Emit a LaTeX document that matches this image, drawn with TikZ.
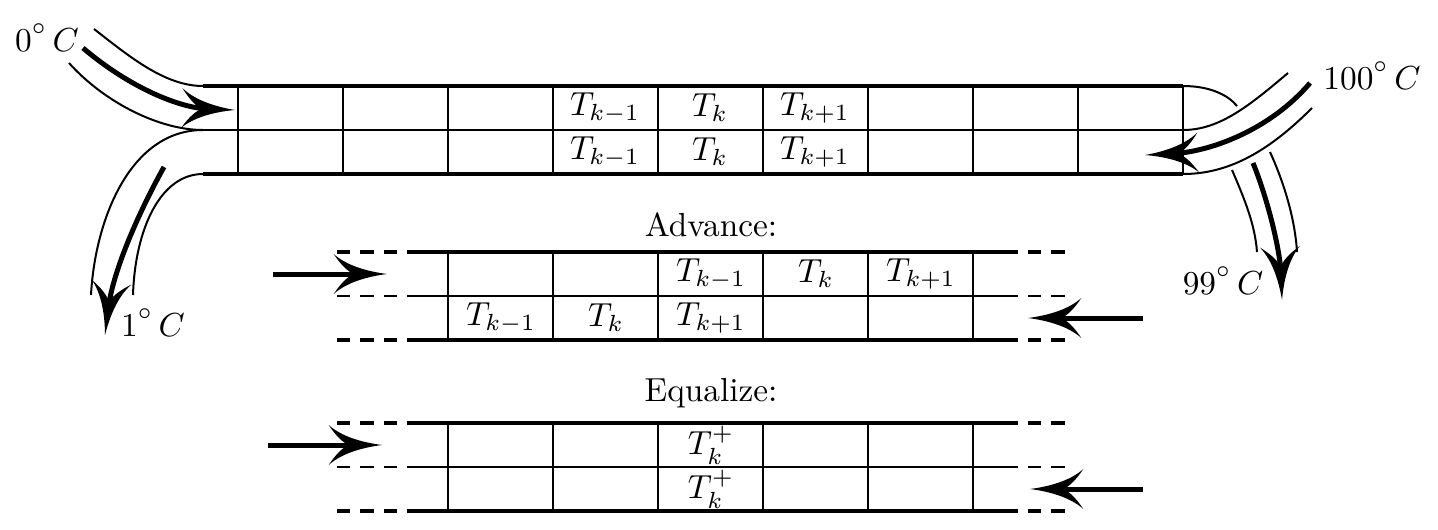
\documentclass[tikz,border=0pt]{standalone}
\usetikzlibrary{arrows.meta}
\pgfdeclarearrow{
  name = Fin,
  parameters = {\the\pgfarrowlength,\the\pgfarrowwidth},
  setup code = {
    \pgfarrowssettipend{0pt}
    \pgfarrowssetlineend{-0.5\pgfarrowlength}
    \pgfarrowssetbackend{-\pgfarrowlength}
    \pgfarrowssetvisualbackend{-0.6\pgfarrowlength}
    \pgfarrowsupperhullpoint{0pt}{0pt}
    \pgfarrowsupperhullpoint{-\pgfarrowlength}{.5\pgfarrowwidth}
    \pgfarrowssavethe\pgfarrowlength
    \pgfarrowssavethe\pgfarrowwidth
  },
  drawing code = {
    \pgfpathmoveto{\pgfqpoint{0pt}{0pt}}
    \pgfpathcurveto{\pgfpoint{-.35\pgfarrowlength}{.06\pgfarrowwidth}}{\pgfpoint{-.75\pgfarrowlength}{.2\pgfarrowwidth}}{\pgfpoint{-\pgfarrowlength}{.5\pgfarrowwidth}}
    \pgfpathcurveto{\pgfpoint{-.85\pgfarrowlength}{.2\pgfarrowwidth}}{\pgfpoint{-.72\pgfarrowlength}{.05\pgfarrowwidth}}{\pgfpoint{-.62\pgfarrowlength}{0pt}}
    \pgfpathcurveto{\pgfpoint{-.72\pgfarrowlength}{-.05\pgfarrowwidth}}{\pgfpoint{-.85\pgfarrowlength}{-.2\pgfarrowwidth}}{\pgfpoint{-\pgfarrowlength}{-.5\pgfarrowwidth}}
    \pgfpathcurveto{\pgfpoint{-.75\pgfarrowlength}{-.2\pgfarrowwidth}}{\pgfpoint{-.35\pgfarrowlength}{-.06\pgfarrowwidth}}{\pgfqpoint{0pt}{0pt}}
    \pgfpathclose
    \pgfusepathqfill
  },
  defaults = {length=16pt, width=12pt}
}
\newcommand{\degC}[1]{$#1^{\raisebox{1.5pt}{$\scriptstyle\circ$}}\,C$}
\tikzset{
  wall/.style={line width=1.2pt},
  grid/.style={line width=0.45pt},
  bank/.style={line width=0.6pt},
  flow/.style={line width=1.5pt,-{Fin[length=16pt,width=12pt]}},
  wallgap/.style={line width=1.2pt,dash pattern=on 4pt off 3pt},
  gridgap/.style={line width=0.45pt,dash pattern=on 4pt off 3pt},
  val/.style={inner sep=0pt},
}
\begin{document}
\begin{tikzpicture}[x=0.3pt,y=-0.3pt]
  \useasboundingbox (0,0) rectangle (1438,529);
  % counterflow pipe
  \draw[wall] (203,86) -- (1183,86);
  \draw[wall] (203,174) -- (1183,174);
  \draw[grid] (203,130) -- (1183,130);
  \foreach \x in {238,343,...,1183}
    \draw[grid] (\x,86) -- (\x,174);
  \foreach \y in {108,152} {
    \node[val] (km\y) at (605,\y) {$T_{k-1}$};
    \node[val] (k\y) at (710,\y) {$T_k$};
    \node[val] (kp\y) at (815,\y) {$T_{k+1}$};
  }
  % cold end
  \draw[bank] (94,29) .. controls (130,57) and (165,86) .. (203,86);
  \draw[bank] (69,63) .. controls (105,103) and (160,130) .. (203,130);
  \draw[flow] (83,48) .. controls (130,88) and (180,108) .. (235,110);
  \draw[bank] (203,130) .. controls (130,130) and (95,220) .. (91,295);
  \draw[bank] (203,174) .. controls (160,174) and (135,230) .. (133,295);
  \draw[flow] (164,167) .. controls (140,210) and (113,270) .. (105,335);
  \node (cin) at (47,38) {\degC{0}};
  \node (cout) at (153,323) {\degC{1}};
  % hot end
  \draw[bank] (1183,86) .. controls (1210,86) and (1228,95) .. (1237,106);
  \draw[bank] (1288,73) .. controls (1250,105) and (1220,130) .. (1183,130);
  \draw[bank] (1312,108) .. controls (1270,150) and (1230,174) .. (1183,174);
  \draw[flow] (1310,83) .. controls (1270,130) and (1210,152) .. (1145,155);
  \draw[bank] (1232,170) .. controls (1245,200) and (1255,225) .. (1257,252);
  \draw[bank] (1270,152) .. controls (1285,185) and (1295,220) .. (1297,252);
  \draw[flow] (1253,163) .. controls (1268,200) and (1280,250) .. (1282,300);
  \node (hin) at (1372,76) {\degC{100}};
  \node (hout) at (1223,281) {\degC{99}};
  % advance step
  \node (adv) at (711,225) {Advance:};
  \foreach \y in {252,340}
    \draw[wall] (407,\y) -- (1018,\y);
  \draw[grid] (407,296) -- (1018,296);
  \foreach \y in {252,340} {
    \draw[wallgap] (337,\y) -- (407,\y);
    \draw[wallgap,dash phase=4pt] (1018,\y) -- (1070,\y);
  }
  \draw[gridgap] (337,296) -- (407,296);
  \draw[gridgap,dash phase=4pt] (1018,296) -- (1070,296);
  \foreach \x in {448,553,...,973}
    \draw[grid] (\x,252) -- (\x,340);
  \node[val] (akm) at (711,274) {$T_{k-1}$};
  \node[val] (ak) at (816,274) {$T_k$};
  \node[val] (akp) at (921,274) {$T_{k+1}$};
  \node[val] (bkm) at (501,318) {$T_{k-1}$};
  \node[val] (bk) at (606,318) {$T_k$};
  \node[val] (bkp) at (711,318) {$T_{k+1}$};
  \draw[flow] (273,274) -- (387,274);
  \draw[flow] (1143,318) -- (1028,318);
  % equalize step
  \node (eq) at (711,393) {Equalize:};
  \foreach \y in {423,511}
    \draw[wall] (407,\y) -- (1018,\y);
  \draw[grid] (407,467) -- (1018,467);
  \foreach \y in {423,511} {
    \draw[wallgap] (337,\y) -- (407,\y);
    \draw[wallgap,dash phase=4pt] (1018,\y) -- (1070,\y);
  }
  \draw[gridgap] (337,467) -- (407,467);
  \draw[gridgap,dash phase=4pt] (1018,467) -- (1070,467);
  \foreach \x in {448,553,...,973}
    \draw[grid] (\x,423) -- (\x,511);
  \node[val] (ekt) at (711,445) {$T_k^+$};
  \node[val] (ekb) at (711,489) {$T_k^+$};
  \draw[flow] (268,445) -- (382,445);
  \draw[flow] (1143,489) -- (1030,489);
\end{tikzpicture}
\end{document}
